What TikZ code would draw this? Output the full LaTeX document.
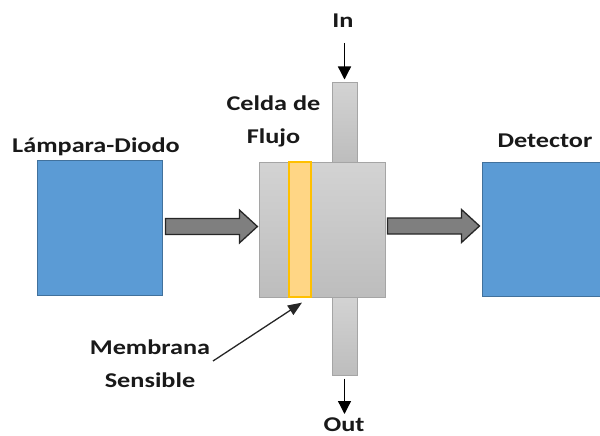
\documentclass[tikz,border=0pt]{standalone}
\usepackage{fontspec}
\setmainfont{Carlito}[FakeStretch=1.25]
\usetikzlibrary{calc,arrows.meta}

\definecolor{boxblue}{HTML}{5B9BD5}
\definecolor{boxblueedge}{HTML}{41719C}
\definecolor{celltop}{HTML}{D3D3D3}
\definecolor{cellbot}{HTML}{BDBDBD}
\definecolor{celledge}{HTML}{A5A5A5}
\definecolor{membfill}{HTML}{FFD685}
\definecolor{membedge}{HTML}{FFC000}
\definecolor{arrowgray}{HTML}{7F7F7F}

\tikzset{
  lbl/.style={font=\bfseries\fontsize{21}{33}\selectfont, text=black!90, inner sep=0pt, align=center},
  bluebox/.style={draw=boxblueedge, line width=0.8pt, fill=boxblue, inner sep=0pt},
  cellpart/.style={draw=celledge, line width=1pt, top color=celltop, bottom color=cellbot, inner sep=0pt},
  membrane/.style={draw=membedge, line width=1.2pt, fill=membfill, inner sep=0pt},
  blockarr/.style={draw=black!85, line width=1.3pt, fill=arrowgray, line join=miter},
  flow/.style={draw=black, line width=1.3pt, -{Triangle[width=13pt,length=13pt]}},
  pointer/.style={draw=black!85, line width=1.3pt, -{Triangle[width=11pt,length=14pt]}}
}

% horizontal block arrow starting at #1, total length 92
\newcommand\blockarrow[1]{%
  \draw[blockarr] (#1) ++(0,-8) -- ++(74,0) -- ++(0,-8.5) -- ++(18,16.5)
    -- ++(-18,16.5) -- ++(0,-8.5) -- ++(-74,0) -- cycle;}

\begin{document}
\begin{tikzpicture}[x=1pt,y=-1pt]
  \useasboundingbox (0,0) rectangle (600,436);
  \clip (0,0) rectangle (600,436);

  % source and detector
  \node[bluebox, minimum width=125pt, minimum height=135pt] (lamp) at (99.5,227.5) {};
  \node[bluebox, minimum width=130pt, minimum height=134pt] (det) at (547,229) {};

  % flow cell with inlet/outlet tubes
  \node[cellpart, minimum width=25pt, minimum height=79pt] (tubein) at (344.5,122.5) {};
  \node[cellpart, minimum width=25pt, minimum height=78pt] (tubeout) at (344.5,336) {};
  \node[cellpart, minimum width=126pt, minimum height=135pt] (cell) at (322,229.5) {};
  \node[membrane, minimum width=22pt, minimum height=135pt] (memb) at (300,229.5) {};

  % light path
  \coordinate (a1) at ($(lamp.east)+(3,-1)$);
  \blockarrow{a1}
  \coordinate (a2) at ($(cell.east)+(2,-3.5)$);
  \blockarrow{a2}

  % labels (base anchor sits on the last line of a multi-line label)
  \node[lbl, anchor=base] (tlamp) at (96,152) {Lámpara-Diodo};
  \node[lbl, anchor=base] (tdet) at (545,147) {Detector};
  \node[lbl, anchor=base] (tcell) at (273.5,143) {Celda de\\Flujo};
  \node[lbl, anchor=base] (tin) at (343,28) {In};
  \node[lbl, anchor=base] (tout) at (344,431) {Out};
  \node[lbl, anchor=base] (tmemb) at (150,387) {Membrana\\Sensible};

  % inlet / outlet flow
  \coordinate (inTop) at (344.5,43);
  \draw[flow] (inTop) -- ($(tubein.north)+(0,-3)$);
  \coordinate (outTop) at ($(tubeout.south)+(0,3)$);
  \coordinate (outEnd) at (344.5,414);
  \draw[flow] (outTop) -- (outEnd);

  % pointer to membrane
  \coordinate (pStart) at (213,361);
  \draw[pointer] (pStart) -- ($(memb.south)+(2,5)$);
\end{tikzpicture}
\end{document}
